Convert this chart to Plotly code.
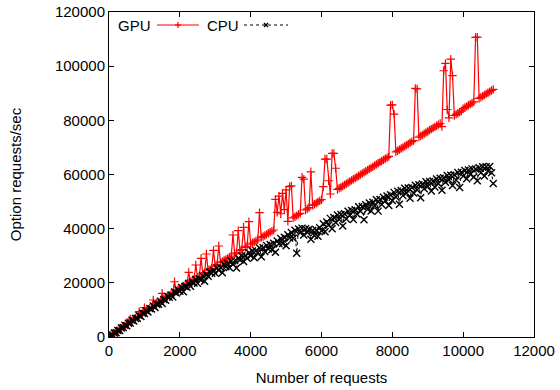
import plotly.graph_objects as go

# Number of requests (shared x for both series)
requests = list(range(0, 10851, 50))

gpu_rate = [
    0, 470, 930, 1400, 1860, 2330, 2790, 3260, 3720, 4190,
    4650, 5120, 6650, 6050, 6510, 6980, 7440, 9350, 8370, 8840,
    10820, 9740, 10170, 10610, 11040, 13660, 11910, 12350, 12780, 13220,
    16130, 14090, 14520, 14960, 15390, 15830, 16260, 20400, 17130, 17570,
    18000, 18410, 18820, 19230, 19640, 23880, 20460, 20870, 21280, 26580,
    22100, 22510, 29000, 23330, 23740, 30650, 24560, 24970, 25380, 32000,
    26200, 26610, 33600, 27420, 27820, 28230, 28630, 29040, 29440, 29850,
    37660, 30660, 31060, 39250, 31870, 32280, 40500, 33090, 33490, 42580,
    34300, 34700, 35100, 35500, 35900, 45900, 36700, 37100, 37500, 37900,
    38300, 38700, 39100, 39500, 50800, 46000, 52000, 45500, 53000, 47000,
    54300, 42720, 55500, 55800, 43980, 44400, 44820, 45240, 45660, 58970,
    58300, 46920, 47340, 47760, 61000, 48600, 49020, 49440, 49860, 50280,
    50700, 55500, 65700, 65700, 57700, 52800, 67800, 67800, 62300, 54480,
    54900, 55320, 55740, 56160, 56580, 57000, 57420, 57840, 58260, 58680,
    59100, 59520, 59940, 60360, 60780, 61200, 61620, 62040, 62460, 62880,
    63300, 63720, 64140, 64560, 64980, 65400, 65820, 66240, 66660, 85600,
    85700, 82300, 68340, 68760, 69180, 69600, 70020, 70440, 70860, 71280,
    71700, 72120, 72540, 91800, 91600, 73800, 74220, 74640, 75060, 75480,
    75900, 76320, 76740, 77160, 77580, 78000, 78420, 78840, 77700, 98300,
    101000, 84000, 80940, 102600, 96500, 81780, 82200, 82620, 83040, 83460,
    84300, 84720, 85140, 85560, 85980, 86400, 86820, 110600, 110700, 88080,
    88500, 88920, 89340, 89760, 90180, 90600, 91020, 91440,
]

cpu_rate = [
    0, 550, 750, 1450, 1600, 2400, 2400, 3350, 3500, 4300,
    4150, 5100, 5200, 6150, 5900, 6850, 6900, 7900, 7600, 8750,
    8700, 9730, 9250, 10480, 10300, 11480, 10850, 12080, 12100, 13230,
    12350, 13880, 13600, 14980, 14650, 15480, 14800, 16580, 16250, 17380,
    16900, 18250, 16700, 18750, 18400, 19750, 18700, 20250, 19900, 21250,
    19800, 21550, 21100, 22550, 20600, 23050, 22400, 24050, 23500, 24550,
    23500, 25500, 24600, 25700, 23700, 26800, 25900, 27100, 25700, 28100,
    26900, 28200, 25500, 29100, 28400, 30000, 27900, 30100, 29100, 31100,
    30000, 31750, 29300, 31850, 31100, 32850, 29600, 32950, 31600, 33750,
    32500, 34150, 32200, 34575, 31250, 35425, 34400, 36375, 34550, 36825,
    33700, 37775, 36550, 38625, 36500, 39375, 30950, 39925, 38500, 40200,
    37700, 40000, 38600, 39800, 36100, 39300, 37500, 39500, 37200, 40300,
    39200, 41800, 38900, 42500, 41300, 43800, 40000, 44150, 42300, 45050,
    43400, 45250, 41000, 45550, 43600, 46450, 45000, 46750, 43400, 46950,
    45400, 48050, 46400, 48150, 43300, 48850, 47200, 49480, 46560, 49740,
    48420, 50700, 46480, 50760, 48940, 51620, 50300, 52080, 48560, 52540,
    50420, 53400, 51680, 53860, 49000, 54100, 52200, 54900, 53200, 55000,
    51200, 55200, 53200, 56000, 54300, 56200, 51400, 56500, 54700, 57300,
    55600, 57400, 53900, 57600, 55400, 58300, 56600, 58600, 54200, 58800,
    57100, 59600, 58000, 59700, 55900, 59900, 58000, 60700, 55200, 60800,
    59400, 61500, 58400, 61625, 60050, 62075, 59100, 62025, 57650, 62475,
    60600, 62825, 59450, 62875, 61300, 62925, 60650, 56700,
]

x_ticks = [0, 2000, 4000, 6000, 8000, 10000, 12000]
y_ticks = [0, 20000, 40000, 60000, 80000, 100000, 120000]

RED = "rgb(255,0,0)"
FONT = "Liberation Sans, Arial, Helvetica, sans-serif"

fig = go.Figure()
fig.add_trace(go.Scatter(
    x=requests, y=gpu_rate, mode="lines+markers", name="GPU",
    line=dict(color=RED, width=1.2),
    marker=dict(symbol="cross-thin", size=6, line=dict(color=RED, width=1.2)),
    showlegend=False,
))
fig.add_trace(go.Scatter(
    x=requests, y=cpu_rate, mode="lines+markers", name="CPU",
    line=dict(color="black", width=1, dash="dot"),
    marker=dict(symbol="x-thin", size=7, line=dict(color="black", width=1.4)),
    showlegend=False,
))

L, R, T, B = 109, 534, 12, 337
W, H = R - L, B - T


def px(xp):
    return (xp - L) / W


def py(yp):
    return (B - yp) / H


ly = 25
shapes = [
    # GPU sample
    dict(type="line", xref="paper", yref="paper", x0=px(157), x1=px(199), y0=py(ly), y1=py(ly),
         line=dict(color=RED, width=1.2)),
    dict(type="line", xref="paper", yref="paper", x0=px(175), x1=px(181), y0=py(ly), y1=py(ly),
         line=dict(color=RED, width=1.2)),
    dict(type="line", xref="paper", yref="paper", x0=px(178), x1=px(178), y0=py(ly - 3), y1=py(ly + 3),
         line=dict(color=RED, width=1.2)),
    # CPU sample
    dict(type="line", xref="paper", yref="paper", x0=px(244), x1=px(288), y0=py(ly), y1=py(ly),
         line=dict(color="black", width=1, dash="dot")),
    dict(type="line", xref="paper", yref="paper", x0=px(264), x1=px(268), y0=py(ly - 2), y1=py(ly + 2),
         line=dict(color="black", width=1.3)),
    dict(type="line", xref="paper", yref="paper", x0=px(264), x1=px(268), y0=py(ly + 2), y1=py(ly - 2),
         line=dict(color="black", width=1.3)),
]

annotations = [
    dict(text="GPU", xref="paper", yref="paper", x=px(153), y=py(ly), xanchor="right", yanchor="middle",
         showarrow=False, font=dict(family=FONT, size=15, color="black")),
    dict(text="CPU", xref="paper", yref="paper", x=px(241), y=py(ly), xanchor="right", yanchor="middle",
         showarrow=False, font=dict(family=FONT, size=15, color="black")),
]

axis_common = dict(
    showline=True, linecolor="black", linewidth=1, mirror="ticks",
    ticks="inside", ticklen=5, tickcolor="black", tickwidth=1,
    showgrid=False, zeroline=False, tickformat="d", automargin=False,
    tickfont=dict(family=FONT, size=15, color="black"),
)

fig.update_layout(
    width=560, height=390,
    margin=dict(l=L, r=560 - R, t=T, b=390 - B, autoexpand=False),
    paper_bgcolor="white", plot_bgcolor="white",
    font=dict(family=FONT, size=15, color="black"),
    xaxis=dict(range=[0, 12000], tickvals=x_ticks, ticktext=[str(v) for v in x_ticks],
               title=dict(text="Number of requests", standoff=14, font=dict(family=FONT, size=15)),
               **axis_common),
    yaxis=dict(range=[0, 120000], tickvals=y_ticks, ticktext=[str(v) for v in y_ticks],
               title=dict(text="Option requests/sec", standoff=29, font=dict(family=FONT, size=15)),
               **axis_common),
    shapes=shapes,
    annotations=annotations,
    showlegend=False,
)

fig.write_html(
    "out.html",
    config={"displayModeBar": False},
    post_script="document.body.style.margin='0';document.body.style.overflow='hidden';",
)
